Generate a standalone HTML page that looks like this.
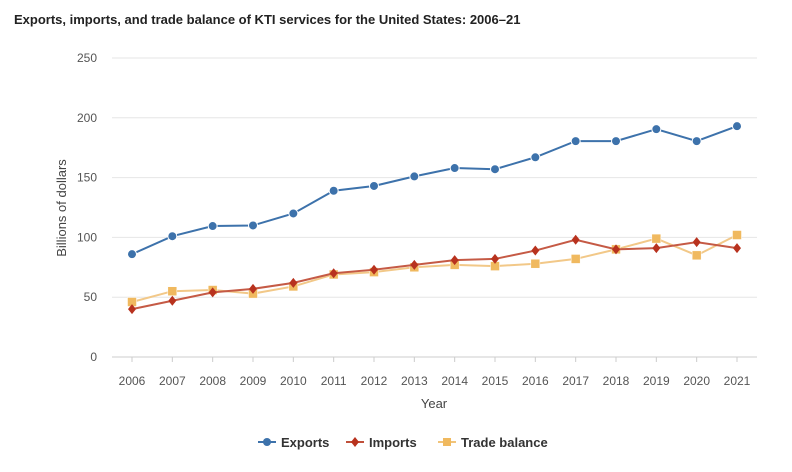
<!DOCTYPE html>
<html><head><meta charset="utf-8"><style>
body{margin:0;background:#fff;font-family:"Liberation Sans",sans-serif;}
svg text{font-family:"Liberation Sans",sans-serif;}
</style></head><body>
<svg width="792" height="467" id="chart">
<text x="14" y="24" font-size="13" font-weight="bold" fill="#222">Exports, imports, and trade balance of KTI services for the United States: 2006–21</text>
<text transform="translate(66,208) rotate(-90)" text-anchor="middle" font-size="13" fill="#444">Billions of dollars</text>
<text x="434" y="408" text-anchor="middle" font-size="13" fill="#444">Year</text>
<g id="grid"></g><g id="series"></g>
<g>
<g><line x1="258" y1="442" x2="276" y2="442" stroke="#3d72ab" stroke-width="2"/><circle cx="267" cy="442" r="4" fill="#3d72ab"/><text x="281" y="447" font-size="13" font-weight="bold" fill="#333">Exports</text></g>
<g><line x1="346" y1="442" x2="364" y2="442" stroke="#c0503a" stroke-width="2"/><path d="M355 437 L359 442 L355 447 L351 442Z" fill="#b8321e"/><text x="369" y="447" font-size="13" font-weight="bold" fill="#333">Imports</text></g>
<g><line x1="438" y1="442" x2="456" y2="442" stroke="#f1c47a" stroke-width="2"/><rect x="443" y="438" width="8" height="8" fill="#f0b95f"/><text x="461" y="447" font-size="13" font-weight="bold" fill="#333">Trade balance</text></g>
</g>
</svg>
<script>
const years=[2006,2007,2008,2009,2010,2011,2012,2013,2014,2015,2016,2017,2018,2019,2020,2021];
const exportsV=[86,101,109.5,110,120,139,143,151,158,157,167,180.5,180.5,190.5,180.5,193];
const importsV=[40,47,54,57,62,70,73,77,81,82,89,98,90,91,96,91];
const tradeV=[46,55,56,53,59,69,71,75,77,76,78,82,90,99,85,102];
const yTicks=[0,50,100,150,200,250];
const NS="http://www.w3.org/2000/svg";
const x=i=>132+i*(737-132)/(years.length-1);
const y=v=>357-v*(357-58)/250;
function mk(t,a,p){const e=document.createElementNS(NS,t);for(const k in a)e.setAttribute(k,a[k]);p.appendChild(e);return e;}
const grid=document.getElementById('grid'),ser=document.getElementById('series');
yTicks.forEach(t=>{
 const l=mk('line',{x1:112,x2:757,y1:y(t),y2:y(t),stroke:t===0?'#ccc':'#e6e6e6','stroke-width':1},grid);
 
 
 const tx=mk('text',{x:97,y:y(t)+4,'text-anchor':'end','font-size':12,fill:'#555'},grid);tx.textContent=t;
 
 
});
years.forEach((yr,i)=>{
 mk('line',{x1:x(i),x2:x(i),y1:357,y2:362,stroke:'#ccc'},grid);
 const tx=mk('text',{x:x(i),y:385,'text-anchor':'middle','font-size':12,fill:'#555'},grid);tx.textContent=yr;
 
 
});
function series(vals,color,mcolor,shape,name){
 const g=mk('g',{},ser);
 
 
 mk('polyline',{points:vals.map((v,i)=>x(i)+','+y(v)).join(' '),fill:'none',stroke:color,'stroke-width':2},g);
 vals.forEach((v,i)=>{
  let m;const cx=x(i),cy=y(v);
  if(shape==='c')m=mk('circle',{cx,cy,r:4.5,fill:mcolor,stroke:'#fff','stroke-width':1},g);
  else if(shape==='d')m=mk('path',{d:`M${cx} ${cy-5}L${cx+4} ${cy}L${cx} ${cy+5}L${cx-4} ${cy}Z`,fill:mcolor},g);
  else m=mk('rect',{x:cx-4.5,y:cy-4.5,width:9,height:9,fill:mcolor,stroke:'#fff','stroke-width':0.5},g);
  
  
 });
}
series(tradeV,'#f2c888','#f0b95f','s','trade-balance');
series(importsV,'#c55a45','#b8321e','d','imports');
series(exportsV,'#3d72ab','#3d72ab','c','exports');
</script>
</body></html>
